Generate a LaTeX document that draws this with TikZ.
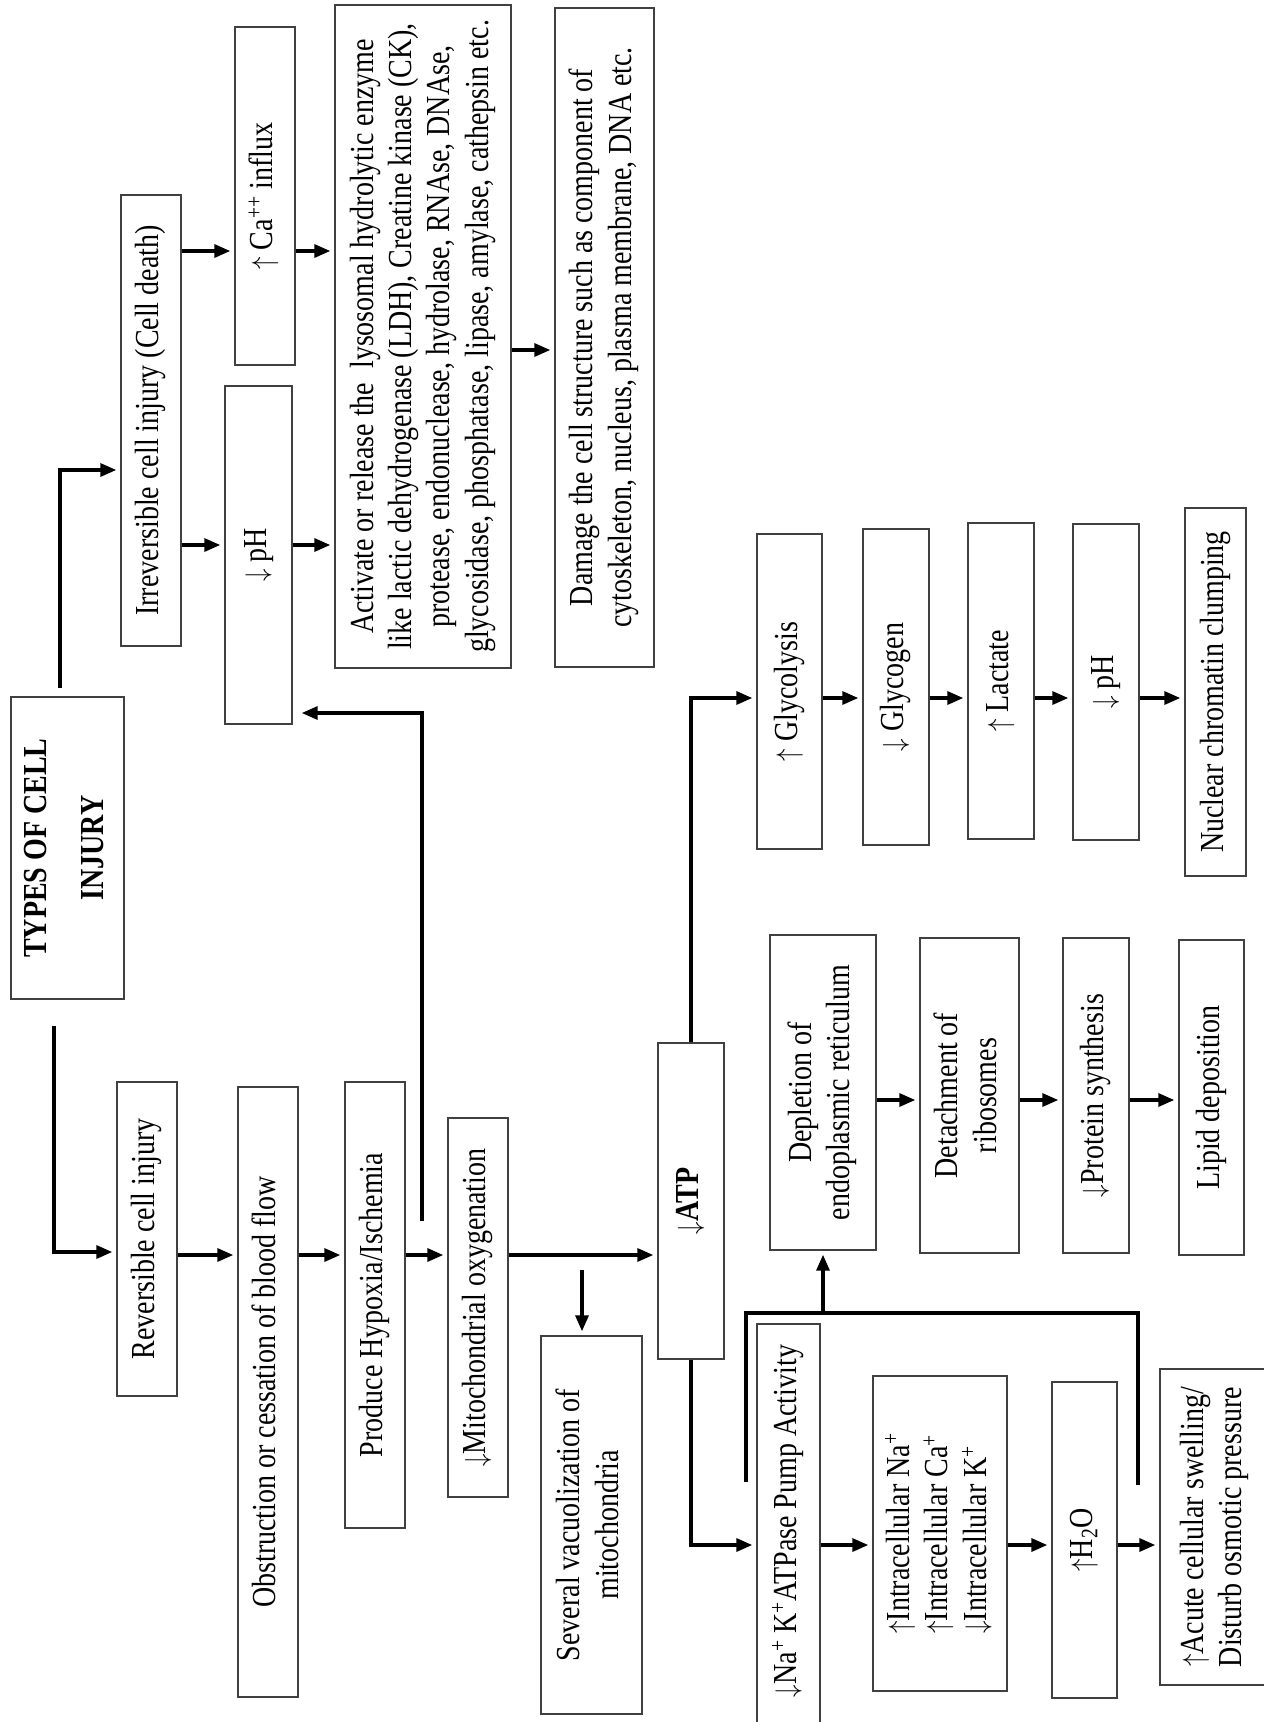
\documentclass[tikz,border=0pt]{standalone}
\usepackage{fontspec}
\setmainfont{Liberation Serif}
\usepackage{graphicx}
\usetikzlibrary{arrows.meta}
\newcommand{\cellText}[1]{%%
  \scalebox{1}[1.2]{\begin{tabular}{@{}c@{}}#1\end{tabular}}%%
}
\newcommand{\cellBox}[6]{%%
  %% A box given by its corners, text turned upright.
  \node[boxStyle,minimum width={(#4-#2)*1pt},minimum height={(#5-#3)*1pt}]
    (#1) at ({(#2+#4)/2},{(#3+#5)/2}) {\rotatebox{90}{\cellText{#6}}};
}

\begin{document}
\begin{tikzpicture}[x=1pt,y=-1pt,%%
  boxStyle/.style={draw=black!75,line width=1.4pt,inner sep=0pt,font=\fontsize{28}{32}\selectfont},%%
  arrowStyle/.style={-{Triangle[length=16pt,width=13pt]},line width=3.3pt,shorten >=4pt},%%
  bracketStyle/.style={-,line width=4.4pt}%%
]
\useasboundingbox (0,0) rectangle (1264,1722);
\clip (0,0) rectangle (1264,1722);
%%
%% Top of the chart: the two kinds of injury.
\cellBox{types}{11}{697}{124}{999}{\bfseries TYPES OF CELL\\[15pt]\bfseries INJURY}
\cellBox{irr}{121}{195}{181}{646}{Irreversible cell injury (Cell death)}
\cellBox{ca}{235}{27}{295}{365}{$\uparrow$ Ca\textsuperscript{++} influx}
\cellBox{phTop}{225}{386}{292}{724}{$\downarrow$ pH}
\cellBox{enzyme}{335}{5}{511}{668}{Activate or release the\ \ lysosomal hydrolytic enzyme\\
  like lactic dehydrogenase (LDH), Creatine kinase (CK),\\
  protease, endonuclease, hydrolase, RNAse, DNAse,\\
  glycosidase, phosphatase, lipase, amylase, cathepsin etc.}
\cellBox{damage}{555}{8}{654}{667}{Damage the cell structure such as component of\\
  cytoskeleton, nucleus, plasma membrane, DNA etc.}
%% Reversible branch.
\cellBox{rev}{117}{1082}{177}{1396}{Reversible cell injury}
\cellBox{obstr}{238}{1087}{298}{1697}{Obstruction or cessation of blood flow}
\cellBox{hypoxia}{345}{1082}{405}{1528}{Produce Hypoxia/Ischemia}
\cellBox{mito}{448}{1118}{508}{1497}{$\downarrow$Mitochondrial oxygenation}
\cellBox{vacuole}{541}{1336}{642}{1714}{Several vacuolization of\\ mitochondria}
\cellBox{atp}{658}{1043}{724}{1359}{$\downarrow$\textbf{ATP}}
%% Glycolysis chain.
\cellBox{glycolysis}{757}{534}{822}{849}{$\uparrow$ Glycolysis}
\cellBox{glycogen}{863}{529}{929}{845}{$\downarrow$ Glycogen}
\cellBox{lactate}{968}{523}{1034}{839}{$\uparrow$ Lactate}
\cellBox{phLow}{1073}{524}{1139}{840}{$\downarrow$ pH}
\cellBox{chromatin}{1185}{508}{1246}{876}{Nuclear chromatin clumping}
%% Endoplasmic reticulum chain.
\cellBox{depletion}{770}{935}{876}{1250}{Depletion of\\ endoplasmic reticulum}
\cellBox{ribosome}{920}{938}{1019}{1253}{Detachment of\\ ribosomes}
\cellBox{protein}{1063}{938}{1129}{1253}{$\downarrow$Protein synthesis}
\cellBox{lipid}{1179}{940}{1244}{1255}{Lipid deposition}
%% Pump chain.
\cellBox{pump}{757}{1324}{820}{1760}{\hspace*{42pt}$\downarrow$Na\textsuperscript{+} K\textsuperscript{+}ATPase Pump Activity}
\cellBox{intra}{873}{1376}{1007}{1691}{\begin{tabular}{@{}l@{}}$\uparrow$Intracellular Na\textsuperscript{+}\\
  $\uparrow$Intracellular Ca\textsuperscript{+}\\ $\downarrow$Intracellular K\textsuperscript{+}\end{tabular}}
\cellBox{water}{1052}{1382}{1117}{1698}{$\uparrow$H\textsubscript{2}O}
\cellBox{swelling}{1160}{1369}{1270}{1685}{$\uparrow$Acute cellular swelling/\\ Disturb osmotic pressure}
%%
%% Levels and free ends of the connectors.
\coordinate (typesUp) at (60,688);
\coordinate (typesDown) at (54,1026);
\coordinate (feedStart) at (422,1221);
\coordinate (vacStart) at (582,1270);
\coordinate (bracketA) at (746,1482);
\coordinate (bracketB) at (1138,1485);
\coordinate (lvlIrr) at (0,470);
\coordinate (lvlRev) at (0,1252);
\coordinate (lvlCa) at (0,251);
\coordinate (lvlAcid) at (0,545);
\coordinate (lvlDamage) at (0,350);
\coordinate (lvlFlow) at (0,1255);
\coordinate (lvlFeed) at (0,713);
\coordinate (lvlGlyc) at (0,698);
\coordinate (lvlPump) at (0,1545);
\coordinate (lvlEr) at (0,1100);
\coordinate (lvlBracket) at (0,1313);
%%
%% Irreversible side.
\draw[arrowStyle] (typesUp) |- (irr.west |- lvlIrr);
\draw[arrowStyle] (irr.east |- lvlCa) -- (ca.west |- lvlCa);
\draw[arrowStyle] (irr.east |- lvlAcid) -- (phTop.west |- lvlAcid);
\draw[arrowStyle] (ca.east |- lvlCa) -- (enzyme.west |- lvlCa);
\draw[arrowStyle] (phTop.east |- lvlAcid) -- (enzyme.west |- lvlAcid);
\draw[arrowStyle] (enzyme.east |- lvlDamage) -- (damage.west |- lvlDamage);
%% Reversible side.
\draw[arrowStyle] (typesDown) |- (rev.west |- lvlRev);
\draw[arrowStyle] (rev.east |- lvlFlow) -- (obstr.west |- lvlFlow);
\draw[arrowStyle] (obstr.east |- lvlFlow) -- (hypoxia.west |- lvlFlow);
\draw[arrowStyle] (hypoxia.east |- lvlFlow) -- (mito.west |- lvlFlow);
\draw[arrowStyle] (mito.east |- lvlFlow) -- (atp.west |- lvlFlow);
\draw[arrowStyle] (vacStart) -- (vacStart |- vacuole.north);
\draw[arrowStyle,shorten >=9pt] (feedStart) |- (phTop.east |- lvlFeed);
%% Out of the ATP box.
\draw[arrowStyle] (atp.north) |- (glycolysis.west |- lvlGlyc);
\draw[arrowStyle] (glycolysis.east |- lvlGlyc) -- (glycogen.west |- lvlGlyc);
\draw[arrowStyle] (glycogen.east |- lvlGlyc) -- (lactate.west |- lvlGlyc);
\draw[arrowStyle] (lactate.east |- lvlGlyc) -- (phLow.west |- lvlGlyc);
\draw[arrowStyle] (phLow.east |- lvlGlyc) -- (chromatin.west |- lvlGlyc);
\draw[arrowStyle] (atp.south) |- (pump.west |- lvlPump);
\draw[arrowStyle] (pump.east |- lvlPump) -- (intra.west |- lvlPump);
\draw[arrowStyle] (intra.east |- lvlPump) -- (water.west |- lvlPump);
\draw[arrowStyle] (water.east |- lvlPump) -- (swelling.west |- lvlPump);
%% The bracket over the pump chain.
\draw[bracketStyle] (bracketA) |- (bracketB |- lvlBracket) -- (bracketB);
\draw[arrowStyle] (depletion.south |- lvlBracket) -- (depletion.south);
\draw[arrowStyle] (depletion.east |- lvlEr) -- (ribosome.west |- lvlEr);
\draw[arrowStyle] (ribosome.east |- lvlEr) -- (protein.west |- lvlEr);
\draw[arrowStyle] (protein.east |- lvlEr) -- (lipid.west |- lvlEr);
\end{tikzpicture}
\end{document}
